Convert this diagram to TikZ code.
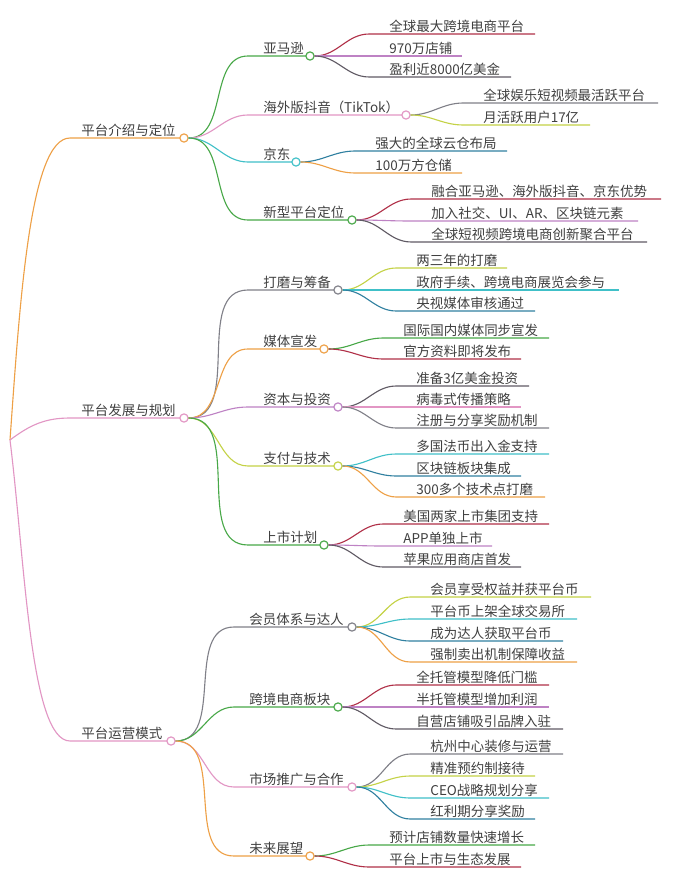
\documentclass[tikz,border=0pt]{standalone}
\usepackage{fontspec}
\setmainfont{Noto Sans CJK SC}
\usetikzlibrary{positioning}
\definecolor{corange}{RGB}{238,160,70}
\definecolor{cpink}{RGB}{226,150,196}
\definecolor{cgreen}{RGB}{72,168,72}
\definecolor{cteal}{RGB}{64,192,200}
\definecolor{cred}{RGB}{176,48,72}
\definecolor{cpurple}{RGB}{190,130,196}
\definecolor{cgray}{RGB}{128,128,136}
\definecolor{cdark}{RGB}{96,90,100}
\definecolor{cyg}{RGB}{196,210,70}
\definecolor{cblue}{RGB}{48,128,160}
\tikzset{
  lbl/.style={inner sep=1pt,anchor=south west,text=black!75,font=\fontsize{11.5}{13}\selectfont},
  dot/.style={circle,draw=#1,fill=white,line width=1pt,inner sep=0pt,minimum size=7pt},
  link/.style={draw=#1,line width=0.95pt}
}
% leaf: parent, colour, text x, line y, line end x, text
\newcommand{\leaf}[6]{%
  \node[lbl] (t-#1-#4) at (#3,#4) {#6};
  \coordinate (e-#1-#4) at (#5,#4);
  \draw[link=#2] (#1.east) to[out=0,in=180] ([xshift=-16]t-#1-#4.south west) -- (e-#1-#4);}
% branch: parent, name, colour, text x, line y, dot x, text
\newcommand{\twig}[7]{%
  \node[lbl] (t-#2) at (#4,#5) {#7};
  \draw[link=#3] (#1.east) to[out=0,in=180] ([xshift=-12]t-#2.south west) -- (#6,#5);
  \node[dot=#3] (#2) at (#6,#5) {};}
\begin{document}
\begin{tikzpicture}[x=0.03cm,y=-0.03cm]
\useasboundingbox[fill=white] (0,0) rectangle (690,874);
\coordinate (root) at (10,440);
% first level
\node[lbl] (t-intro) at (80,138) {平台介绍与定位};
\node[lbl] (t-plan) at (80,418) {平台发展与规划};
\node[lbl] (t-ops) at (80,741) {平台运营模式};
\draw[link=corange] (root) .. controls (20,300) and (30,138) .. (70,138) -- (184,138);
\draw[link=cpink] (root) .. controls (30,425) and (45,418) .. (70,418) -- (184,418);
\draw[link=cpink] (root) .. controls (25,560) and (30,741) .. (70,741) -- (171,741);
\node[dot=corange] (intro) at (184,138) {};
\node[dot=cpink] (plan) at (184,418) {};
\node[dot=cpink] (ops) at (171,741) {};
% intro
\twig{intro}{amz}{cgreen}{262}{56}{310}{亚马逊}
\twig{intro}{tik}{cpink}{262}{115}{406}{海外版抖音（TikTok）}
\twig{intro}{jd}{cteal}{262}{162}{296}{京东}
\twig{intro}{new}{cgreen}{262}{220}{352}{新型平台定位}
\leaf{amz}{cred}{388}{34}{535}{全球最大跨境电商平台}
\leaf{amz}{cpurple}{388}{56}{462}{970万店铺}
\leaf{amz}{cdark}{388}{77}{511}{盈利近8000亿美金}
\leaf{tik}{cgray}{482}{103}{658}{全球娱乐短视频最活跃平台}
\leaf{tik}{cyg}{482}{125}{590}{月活跃用户17亿}
\leaf{jd}{cblue}{374}{151}{507}{强大的全球云仓布局}
\leaf{jd}{corange}{374}{173}{462}{100万方仓储}
\leaf{new}{cred}{430}{199}{661}{融合亚马逊、海外版抖音、京东优势}
\leaf{new}{cpurple}{430}{221}{638}{加入社交、UI、AR、区块链元素}
\leaf{new}{cdark}{430}{242}{647}{全球短视频跨境电商创新聚合平台}
% plan
\twig{plan}{mill}{cgray}{262}{290}{338}{打磨与筹备}
\twig{plan}{media}{corange}{262}{349}{324}{媒体宣发}
\twig{plan}{cap}{cpurple}{262}{407}{338}{资本与投资}
\twig{plan}{pay}{cyg}{262}{466}{338}{支付与技术}
\twig{plan}{ipo}{cgreen}{262}{545}{324}{上市计划}
\leaf{mill}{cyg}{415}{268}{507}{两三年的打磨}
\leaf{mill}{cteal}{415}{290}{619}{政府手续、跨境电商展览会参与}
\leaf{mill}{cblue}{415}{311}{535}{央视媒体审核通过}
\leaf{media}{cgreen}{402}{338}{549}{国际国内媒体同步宣发}
\leaf{media}{cred}{402}{359}{521}{官方资料即将发布}
\leaf{cap}{cdark}{415}{386}{529}{准备3亿美金投资}
\leaf{cap}{cpink}{415}{407}{521}{病毒式传播策略}
\leaf{cap}{cgray}{415}{428}{549}{注册与分享奖励机制}
\leaf{pay}{cteal}{415}{454}{549}{多国法币出入金支持}
\leaf{pay}{cblue}{415}{476}{521}{区块链板块集成}
\leaf{pay}{corange}{415}{497}{545}{300多个技术点打磨}
\leaf{ipo}{cred}{402}{524}{549}{美国两家上市集团支持}
\leaf{ipo}{cpurple}{402}{546}{492}{APP单独上市}
\leaf{ipo}{cdark}{402}{567}{521}{苹果应用商店首发}
% ops
\twig{ops}{mem}{cgray}{248}{627}{352}{会员体系与达人}
\twig{ops}{xb}{cgreen}{248}{707}{338}{跨境电商板块}
\twig{ops}{mkt}{cpink}{248}{787}{352}{市场推广与合作}
\twig{ops}{fut}{corange}{248}{856}{310}{未来展望}
\leaf{mem}{cyg}{429}{597}{591}{会员享受权益并获平台币}
\leaf{mem}{cteal}{429}{619}{577}{平台币上架全球交易所}
\leaf{mem}{cblue}{429}{641}{563}{成为达人获取平台币}
\leaf{mem}{corange}{429}{662}{577}{强制卖出机制保障收益}
\leaf{xb}{cred}{415}{685}{549}{全托管模型降低门槛}
\leaf{xb}{cpurple}{415}{707}{549}{半托管模型增加利润}
\leaf{xb}{cdark}{415}{729}{563}{自营店铺吸引品牌入驻}
\leaf{mkt}{cgray}{429}{754}{563}{杭州中心装修与运营}
\leaf{mkt}{cyg}{429}{776}{535}{精准预约制接待}
\leaf{mkt}{cteal}{429}{798}{549}{CEO战略规划分享}
\leaf{mkt}{cblue}{429}{819}{535}{红利期分享奖励}
\leaf{fut}{cgreen}{388}{845}{535}{预计店铺数量快速增长}
\leaf{fut}{cred}{388}{867}{521}{平台上市与生态发展}
\end{tikzpicture}
\end{document}
